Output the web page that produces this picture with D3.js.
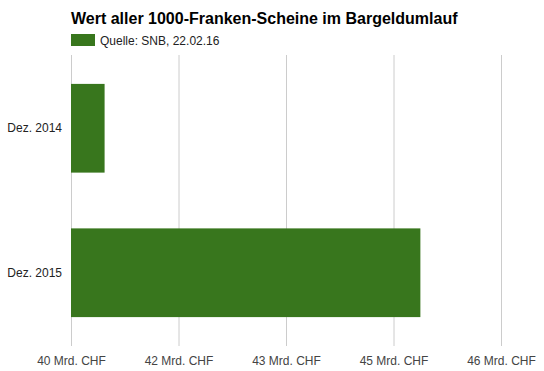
<!DOCTYPE html>
<html>
<head>
<meta charset="utf-8">
<script src="https://cdn.jsdelivr.net/npm/d3@7"></script>
<style>
  body { margin: 0; background: #fff; }
  text { font-family: "Liberation Sans", Arial, sans-serif; }
</style>
</head>
<body>
<div id="chart-area"></div>
<script>
// Data
// ****
const categories = ["Dez. 2014", "Dez. 2015"]
const values = [40.5, 45.2]
const tickValues = [40, 41.6, 43.2, 44.8, 46.4]
const title = "Wert aller 1000-Franken-Scheine im Bargeldumlauf"
const legendLabel = "Quelle: SNB, 22.02.16"

// Config
// ******
const width = 544, height = 371
const plot = {left: 71, right: 501, top: 55, bottom: 346}
const barColor = "#38761d"

const svg = d3.select("#chart-area")
  .append("svg")
    .attr("width", width)
    .attr("height", height)

const x = d3.scaleLinear().domain([tickValues[0], tickValues[tickValues.length - 1]]).range([plot.left, plot.right])
const y = d3.scaleBand().domain(categories).range([plot.top, plot.bottom]).paddingInner(0.386).paddingOuter(0.2)

// Grid & ticks
// ************
const xAxis = d3.axisBottom(x)
  .tickValues(tickValues)
  .tickFormat(d => d3.format(".0f")(d) + " Mrd. CHF")
  .tickSize(plot.bottom - plot.top)
  .tickPadding(8)

const ax = svg.append("g")
  .attr("transform", "translate(0, " + plot.top + ")")
  .call(xAxis)
ax.select(".domain").remove()
ax.selectAll("line").attr("stroke", "#cccccc")
ax.selectAll("text")
  .attr("fill", "#444")
  .attr("font-size", "12px")
  .attr("dy", "0.9em")

// Bars
// ****
svg.selectAll("rect.bar").data(values)
  .enter()
  .append("rect")
    .attr("class", "bar")
    .attr("x", x(tickValues[0]))
    .attr("y", (d, i) => y(categories[i]))
    .attr("width", d => x(d) - x(tickValues[0]))
    .attr("height", y.bandwidth())
    .attr("fill", barColor)

// Category labels
svg.selectAll("text.cat").data(categories)
  .enter()
  .append("text")
    .attr("class", "cat")
    .attr("x", plot.left - 9)
    .attr("y", d => y(d) + y.bandwidth() / 2)
    .attr("dy", "0.35em")
    .attr("text-anchor", "end")
    .attr("font-size", "12px")
    .attr("fill", "#222")
    .text(d => d)

// Title & legend
// **************
svg.append("text")
  .attr("x", plot.left)
  .attr("y", 24)
  .attr("font-size", "16px")
  .attr("font-weight", "bold")
  .attr("fill", "#000")
  .text(title)

svg.append("rect")
  .attr("x", plot.left)
  .attr("y", 34)
  .attr("width", 24)
  .attr("height", 12)
  .attr("fill", barColor)

svg.append("text")
  .attr("x", 100)
  .attr("y", 45)
  .attr("font-size", "12px")
  .attr("fill", "#222")
  .text(legendLabel)
</script>
</body>
</html>
